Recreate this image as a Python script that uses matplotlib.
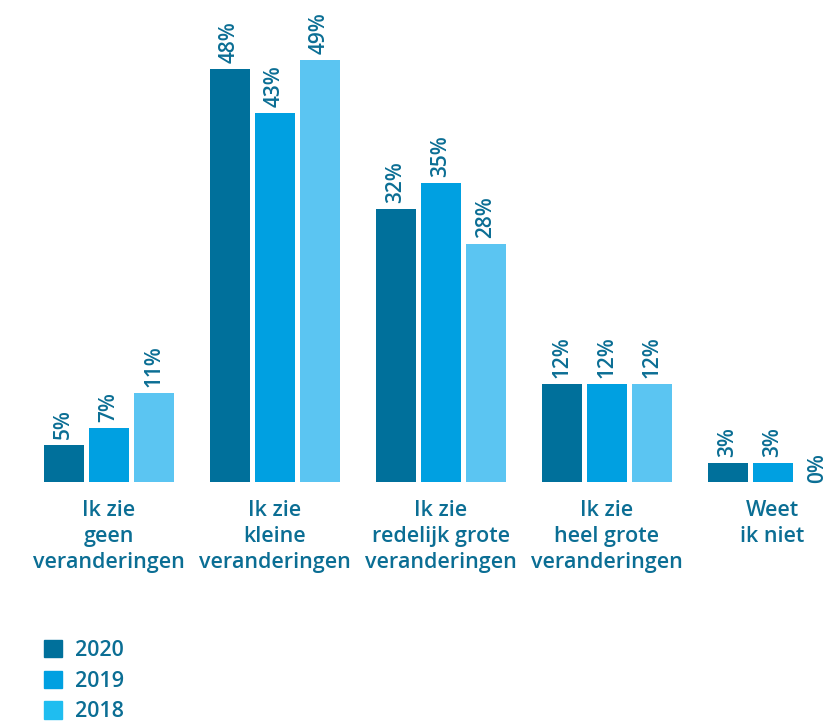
import numpy as np
import matplotlib.pyplot as plt
from matplotlib.patches import Patch

categories = ["Ik zie\ngeen\nveranderingen",
              "Ik zie\nkleine\nveranderingen",
              "Ik zie\nredelijk grote\nveranderingen",
              "Ik zie\nheel grote\nveranderingen",
              "Weet\nik niet"]
years = ["2020", "2019", "2018"]
v2020 = [5, 48, 32, 12, 3]
v2019 = [7, 43, 35, 12, 3]
v2018 = [11, 49, 28, 12, 0]

colors = ["#00709b", "#00a0e1", "#5bc5f2"]
legend_colors = ["#00709b", "#00a0e1", "#1fbdf0"]
text_color = "#0b6e94"

plt.rcParams['font.family'] = ['Open Sans', 'DejaVu Sans']

fig = plt.figure(figsize=(8.33, 7.23), dpi=100)
ax = fig.add_axes([0, 1 - 482 / 723, 1, 482 / 723])

x = np.arange(len(categories))
step = 45 / 166
width = 40 / 166
for i, (vals, col) in enumerate(zip([v2020, v2019, v2018], colors)):
    xs = x + (i - 1) * step
    ax.bar(xs, vals, width=width, color=col, linewidth=0)
    for xi, v in zip(xs, vals):
        ax.text(xi, v + 0.7, f"{v}%", rotation=90, ha="center", va="bottom",
                fontsize=15, fontweight="semibold", color=text_color)

ax.set_xlim(-108.5 / 166, (833 - 108.5) / 166)
ax.set_ylim(0.8, 0.8 + 482 / 8.75)
ax.axis("off")

for xi, lab in zip(x, categories):
    ax.annotate(lab, (xi, 0.8), xytext=(0, -13), textcoords="offset points",
                ha="center", va="top", fontsize=15.5, fontweight="semibold",
                color=text_color, linespacing=1.3)

handles = [Patch(color=c, label=y) for c, y in zip(legend_colors, years)]
fig.legend(handles=handles, loc="upper left",
           bbox_to_anchor=(44 / 833, 1 - 640 / 723),
           frameon=False, labelcolor=text_color, borderpad=0,
           borderaxespad=0, handlelength=0.85, handleheight=0.85,
           handletextpad=0.6, labelspacing=0.45,
           prop={"weight": "semibold", "size": 15.5})

fig.savefig("out.png", dpi=100)
